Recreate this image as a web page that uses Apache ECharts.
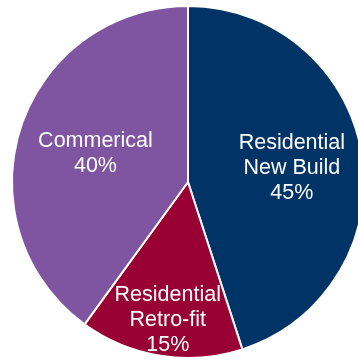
<!DOCTYPE html>
<html>
<head>
<meta charset="utf-8">
<script src="https://cdn.jsdelivr.net/npm/echarts@6/dist/echarts.min.js"></script>
<style>
  html, body { margin: 0; padding: 0; background: #fff; }
  #chart { width: 358px; height: 361px; }
</style>
</head>
<body>
<div id="chart"></div>
<script>
// Market share by segment, drawn clockwise from 12 o'clock
const segments = ['Residential\nNew Build', 'Residential\nRetro-fit', 'Commerical'];
const shares = [45, 15, 40];
const colors = ['#003366', '#990033', '#7f54a0'];
// Per-slice nudge of the inside labels (dx, dy)
const labelNudge = [[14, 0], [-6, 48], [-6, 0]];

const chart = echarts.init(document.getElementById('chart'), null, { renderer: 'canvas' });

chart.setOption({
  animation: false,
  series: [{
    type: 'pie',
    center: [188, 182],
    radius: 176,
    startAngle: 90,
    clockwise: true,
    avoidLabelOverlap: false,
    itemStyle: { borderColor: '#ffffff', borderWidth: 2 },
    label: {
      show: true,
      position: 'inside',
      formatter: '{b}\n{c}%',
      color: '#ffffff',
      fontFamily: '"Liberation Sans", Arial, sans-serif',
      fontSize: 21.5,
      lineHeight: 25,
      align: 'center'
    },
    labelLayout: function (params) {
      const n = labelNudge[params.dataIndex];
      return { dx: n[0], dy: n[1] };
    },
    labelLine: { show: false },
    emphasis: { disabled: true },
    data: segments.map((name, i) => ({
      name: name,
      value: shares[i],
      itemStyle: { color: colors[i] }
    }))
  }]
});
</script>
</body>
</html>
